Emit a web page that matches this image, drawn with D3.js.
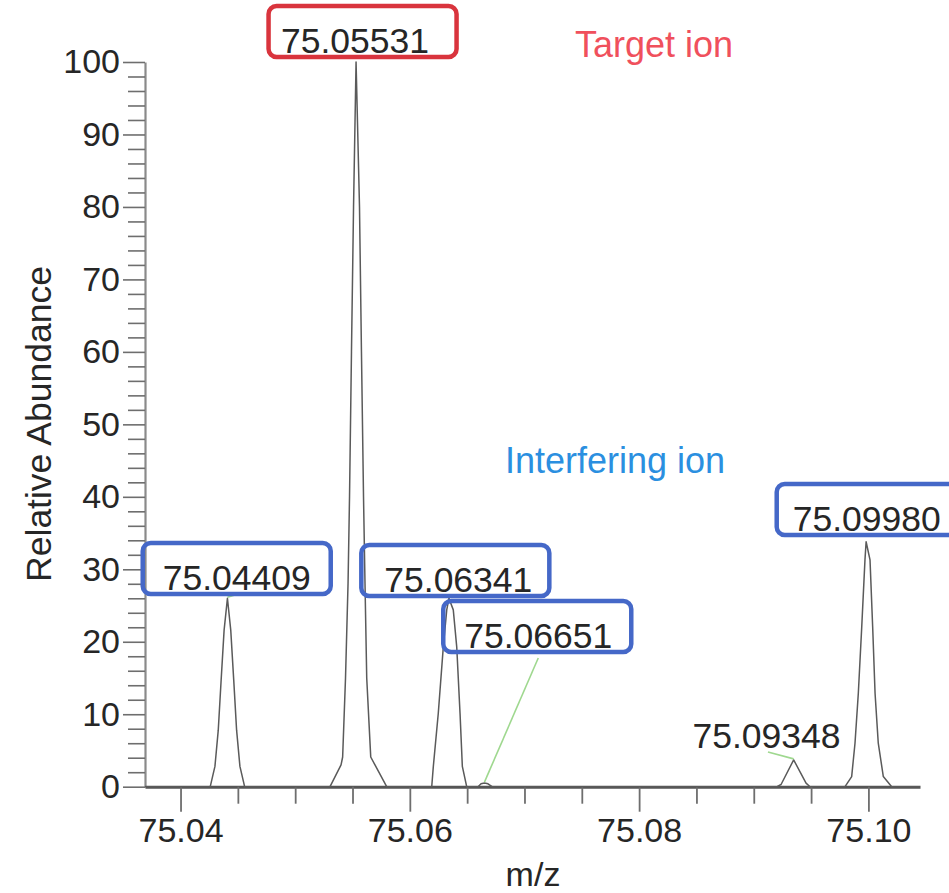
<!DOCTYPE html>
<html>
<head>
<meta charset="utf-8">
<script src="https://cdn.jsdelivr.net/npm/d3@7"></script>
<style>
  html, body { margin: 0; padding: 0; background: #fff; }
  svg { display: block; font-family: "Liberation Sans", Arial, sans-serif; }
</style>
</head>
<body>
<svg id="chart" width="949" height="893"></svg>
<script>
// ---- data: profile spectrum, one [m/z, relative abundance] list per peak ----
const peak04409 = [
  [75.04259, 0], [75.04300, 2.8], [75.04329, 7.8], [75.04354, 14.7], [75.04380, 21.6],
  [75.04409, 26.0],
  [75.04438, 21.6], [75.04464, 14.7], [75.04489, 7.8], [75.04518, 2.8], [75.04559, 0]
];
const peak05531 = [
  [75.05304, 0], [75.05400, 3.0], [75.05414, 4.1], [75.05439, 15], [75.05461, 28],
  [75.05474, 40], [75.05491, 60], [75.05509, 80],
  [75.05531, 100],
  [75.05561, 80], [75.05578, 60], [75.05596, 40], [75.05609, 28], [75.05624, 15],
  [75.05659, 4.1], [75.05696, 3.0], [75.05798, 0]
];
const peak06341 = [
  [75.06191, 0], [75.06205, 2.8], [75.06248, 10.1], [75.06292, 19.3], [75.06322, 24.4],
  [75.06341, 26.0],
  [75.06379, 24.4], [75.06409, 19.3], [75.06438, 10.1], [75.06458, 2.8], [75.06496, 0]
];
const peak06651 = [
  [75.06595, 0], [75.06621, 0.4], [75.06651, 0.5], [75.06682, 0.4], [75.06717, 0]
];
const peak09348 = [
  [75.09203, 0], [75.09238, 0.3], [75.09348, 3.7], [75.09456, 0.5], [75.09491, 0]
];
const peak09980 = [
  [75.09796, 0], [75.09854, 1.4], [75.09883, 6.0], [75.09912, 12.9], [75.09942, 22.1],
  [75.09970, 31.3], [75.09980, 33.8], [75.10014, 31.3], [75.10037, 22.1], [75.10058, 12.9],
  [75.10086, 6.0], [75.10130, 1.4], [75.10203, 0]
];

// centroid annotations
const centroidMz        = [75.04409, 75.05531, 75.06341, 75.06651, 75.09348, 75.09980];
const centroidAbundance = [26.0, 100, 26.0, 0.5, 3.7, 33.8];
const centroidRole      = ["interfering", "target", "interfering", "interfering", "plain", "interfering"];

// axes
const mzRange    = [75.0369, 75.1045];
const xTicks     = [75.04, 75.06, 75.08, 75.10];
const xTickText  = ["75.04", "75.06", "75.08", "75.10"];
const xMinor     = [75.045, 75.05, 75.055, 75.065, 75.07, 75.075, 75.085, 75.09, 75.095];
const yTicks     = [0, 10, 20, 30, 40, 50, 60, 70, 80, 90, 100];
const xTitle     = "m/z";
const yTitle     = "Relative Abundance";
const roleLegend = { target: "Target ion", interfering: "Interfering ion" };

// ---- layout ----
const plot = { left: 145, right: 920, top: 62, bottom: 786.7 };
const svg = d3.select("#chart");

const x = d3.scaleLinear().domain(mzRange).range([plot.left, plot.right]);
const y = d3.scaleLinear().domain([0, 100]).range([plot.bottom, plot.top]);

const tickFont = 34, labelFont = 35.5;
const col = {
  axisY: "#8a8a8a", axisX: "#555", tick: "#6e6e6e", text: "#262626",
  trace: "#5a5a5a", leader: "#9fd88f",
  target: "#d9343d", interfering: "#4568c8",
  targetText: "#f0505c", interferingText: "#2b8fe0"
};

// label placement: text centre offset from apex (px), baseline (px),
// box centre offset from text centre, leader end relative to text anchor
const labelLayout = [
  { dx: 9.3,   base: 590, boxDx: 0,   leader: [1.5, 4] },
  { dx: -1,    base: 53,  boxDx: 7.5, leader: null },
  { dx: 9.4,   base: 592, boxDx: -3,  leader: [-6, 5] },
  { dx: 53.8,  base: 648, boxDx: -1,  leader: [0, 10] },
  { dx: -27.2, base: 748, boxDx: 0,   leader: [1.5, 4] },
  { dx: 0.6,   base: 531, boxDx: 4,   leader: null }
];

// ---- y axis ----
const gy = svg.append("g").attr("transform", `translate(${plot.left},0)`);
gy.call(d3.axisLeft(y).tickValues(yTicks).tickSize(22).tickSizeOuter(0).tickPadding(3));
gy.select(".domain").attr("stroke", col.axisY).attr("stroke-width", 2.2);
gy.selectAll(".tick line").attr("stroke", col.tick).attr("stroke-width", 1.6);
gy.selectAll(".tick text").attr("font-size", tickFont).attr("fill", col.text)
  .attr("font-family", "Liberation Sans, Arial, sans-serif");

const gyMinor = svg.append("g").attr("transform", `translate(${plot.left},0)`);
gyMinor.call(d3.axisLeft(y).tickValues(d3.range(0, 101, 2).filter(v => v % 10 !== 0))
  .tickSize(17).tickSizeOuter(0).tickFormat(""));
gyMinor.select(".domain").remove();
gyMinor.selectAll(".tick line").attr("stroke", col.tick).attr("stroke-width", 1.6);

// ---- x axis ----
const gx = svg.append("g").attr("transform", `translate(0,${plot.bottom})`);
gx.call(d3.axisBottom(x).tickValues(xTicks).tickSize(25).tickSizeOuter(0).tickPadding(6)
  .tickFormat((d, i) => xTickText[i]));
gx.select(".domain").attr("stroke", col.axisX).attr("stroke-width", 3);
gx.selectAll(".tick line").attr("stroke", col.tick).attr("stroke-width", 1.8);
gx.selectAll(".tick text").attr("font-size", tickFont).attr("fill", col.text)
  .attr("font-family", "Liberation Sans, Arial, sans-serif");

const gxMinor = svg.append("g").attr("transform", `translate(0,${plot.bottom})`);
gxMinor.call(d3.axisBottom(x).tickValues(xMinor).tickSize(17).tickSizeOuter(0).tickFormat(""));
gxMinor.select(".domain").remove();
gxMinor.selectAll(".tick line").attr("stroke", col.tick).attr("stroke-width", 1.8);

// axis titles
svg.append("text")
  .attr("transform", `translate(51,424) rotate(-90)`)
  .attr("text-anchor", "middle")
  .attr("font-size", labelFont).attr("fill", col.text)
  .text(yTitle);
svg.append("text")
  .attr("x", 533).attr("y", 886)
  .attr("text-anchor", "middle")
  .attr("font-size", tickFont).attr("fill", col.text)
  .text(xTitle);

// ---- spectrum trace ----
const profile = [[mzRange[0], 0]]
  .concat(peak04409, peak05531, peak06341, peak06651, peak09348, peak09980)
  .concat([[mzRange[1], 0]]);
const line = d3.line().x(d => x(d[0])).y(d => y(d[1]));
svg.append("path")
  .datum(profile)
  .attr("d", line)
  .attr("fill", "none")
  .attr("stroke", col.trace)
  .attr("stroke-width", 1.5)
  .attr("stroke-linejoin", "round");

// ---- centroid labels ----
const labels = centroidMz.map((mz, i) => ({
  mz, ab: centroidAbundance[i], role: centroidRole[i], ...labelLayout[i]
}));

const gl = svg.append("g");
labels.forEach(d => {
  const px = x(d.mz), py = y(d.ab);
  const tx = px + d.dx;
  if (d.leader) {
    gl.append("line")
      .attr("x1", px).attr("y1", py - 1)
      .attr("x2", tx + d.leader[0]).attr("y2", d.base + d.leader[1])
      .attr("stroke", col.leader).attr("stroke-width", 1.6);
  }
  gl.append("text")
    .attr("x", tx).attr("y", d.base)
    .attr("text-anchor", "middle")
    .attr("font-size", labelFont).attr("fill", col.text)
    .text(d.mz.toFixed(5));
  if (d.role !== "plain") {
    const bw = 188, bh = 51;
    gl.append("rect")
      .attr("x", tx + d.boxDx - bw / 2).attr("y", d.base - 47)
      .attr("width", bw).attr("height", bh)
      .attr("rx", 8).attr("ry", 8)
      .attr("fill", "none")
      .attr("stroke", col[d.role]).attr("stroke-width", 4.5);
  }
});

// ---- role captions ----
svg.append("text")
  .attr("x", 654).attr("y", 57)
  .attr("text-anchor", "middle")
  .attr("font-size", 36).attr("fill", col.targetText)
  .text(roleLegend.target);
svg.append("text")
  .attr("x", 615).attr("y", 473)
  .attr("text-anchor", "middle")
  .attr("font-size", 36).attr("fill", col.interferingText)
  .text(roleLegend.interfering);
</script>
</body>
</html>
